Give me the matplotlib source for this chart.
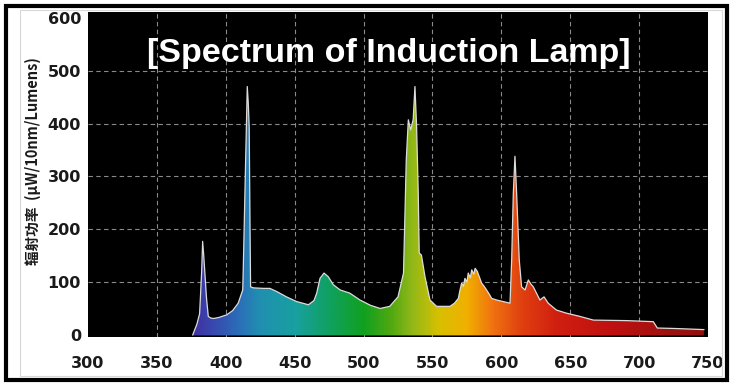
import numpy as np
import matplotlib
matplotlib.use('Agg')
import matplotlib.pyplot as plt
from matplotlib.colors import LinearSegmentedColormap
from matplotlib.patches import Rectangle, Polygon

# Spectrum (wavelength in nm, power in uW/10nm/Lumens)
wavelength = [376, 379, 381, 382.5, 383.2, 384, 385, 386, 387.3, 389, 391, 395,
              400.7, 405, 409, 412.3, 412.7, 414, 415, 415.6, 416.3, 417, 417.6,
              418, 420, 427.3, 432, 437, 444, 451.5, 460, 464, 466, 468.4, 471.3,
              474.4, 478, 483, 490, 497.4, 505, 512, 519, 525, 529, 531, 532.5,
              534.2, 536, 537.3, 538.5, 539.7, 540.4, 542, 544.6, 548.2, 553,
              562.7, 566, 568.8, 570, 571.2, 572.5, 573.6, 575, 576, 577.5, 578.5,
              580, 581, 582.6, 584, 585.7, 587.5, 589.3, 591, 593, 596.6, 601.4,
              606.3, 607.5, 608.7, 609.9, 611.1, 613, 614.7, 617.2, 619.6, 621.5,
              623.2, 628, 631, 634, 640, 647.4, 657, 666.8, 691, 710.3, 711.5,
              713.2, 727.2, 747]
power = [0, 20, 40, 120, 177, 150, 110, 70, 35, 32, 31, 33,
         38, 46, 60, 85, 126, 281, 400, 470, 440, 394, 205,
         91, 89, 88, 88, 82, 72, 63, 57, 65, 79, 107, 117,
         110, 95, 85, 79, 66, 56, 50, 54, 72, 117, 331, 407,
         388, 407, 470, 394, 268, 155, 151, 110, 66, 54,
         54, 60, 69, 85, 98, 92, 107, 100, 117, 108, 123,
         115, 126, 120, 110, 98, 92, 85, 78, 69, 66, 63,
         60, 142, 268, 338, 268, 142, 91, 85, 104, 96,
         91, 66, 72, 60, 47, 41, 35, 28, 27, 25, 20,
         13, 12, 10]

x_ticks = [300, 350, 400, 450, 500, 550, 600, 650, 700, 750]
y_ticks = [0, 100, 200, 300, 400, 500, 600]

# colour stops along the wavelength axis
color_stops = [(375, '#4030a0'), (390, '#3848b0'), (410, '#2a70b8'),
               (425, '#2090b0'), (450, '#18a0a0'), (475, '#10a060'),
               (500, '#10a020'), (520, '#50a810'), (535, '#90b818'),
               (555, '#d8c000'), (575, '#f0b000'), (595, '#f07010'),
               (615, '#e04010'), (640, '#d02010'), (680, '#c01010'),
               (720, '#a01010'), (750, '#901010')]

fig = plt.figure(figsize=(7.33, 3.86), dpi=100)
ax = fig.add_axes([88 / 733, 49 / 386, 620 / 733, 325 / 386])
ax.set_facecolor('black')
ax.set_xlim(300, 750)
ax.set_ylim(-4, 611)

# dashed grid behind the spectrum
for gx in x_ticks[1:-1]:
    ax.axvline(gx, color='#8a8a8a', lw=0.8, ls=(0, (4, 3)), zorder=1)
for gy in y_ticks[1:-1]:
    ax.axhline(gy, color='#8a8a8a', lw=0.8, ls=(0, (4, 3)), zorder=1)

# gradient fill clipped to the spectrum outline
lo, hi = 300.0, 750.0
cmap = LinearSegmentedColormap.from_list(
    'spec', [((w - lo) / (hi - lo), c) for w, c in
             [(lo, color_stops[0][1])] + color_stops])
grad = np.linspace(0, 1, 900).reshape(1, -1)
img = ax.imshow(grad, extent=[lo, hi, -4, 611], aspect='auto', cmap=cmap,
                origin='lower', zorder=2)
verts = list(zip(wavelength, power)) + [(wavelength[-1], -1), (wavelength[0], -1)]
clip = Polygon(verts, closed=True, transform=ax.transData, fc='none', ec='none')
ax.add_patch(clip)
img.set_clip_path(clip)
ax.plot(wavelength, power, color='#dcdcdc', lw=0.9, zorder=3)

ax.set_xticks(x_ticks)
ax.set_yticks(y_ticks)
ax.tick_params(length=0, labelsize=11.5, colors='#1a1a1a')
ax.tick_params(axis='x', pad=14)
ax.tick_params(axis='y', pad=5)
for lab in ax.get_xticklabels() + ax.get_yticklabels():
    lab.set_fontweight('bold')
for s in ax.spines.values():
    s.set_visible(False)

ax.set_ylabel('辐射功率  (μW/10nm/Lumens)', fontsize=10.5, fontweight='bold',
              family=['Noto Sans CJK SC', 'DejaVu Sans'], color='#1a1a1a')
ax.yaxis.set_label_coords(-0.075, 0.54)

ax.text(0.485, 0.872, '[Spectrum of Induction Lamp]', transform=ax.transAxes,
        ha='center', va='center', color='white', fontsize=24.5, fontweight='bold',
        family='Liberation Sans')

# picture frame
fig.patches.append(Rectangle((20 / 733, 10 / 386), 702 / 733, 366 / 386,
                             transform=fig.transFigure, fill=False,
                             ec='#d8d8d8', lw=0.8))
fig.patches.append(Rectangle((6 / 733, 6 / 386), 721 / 733, 374 / 386,
                             transform=fig.transFigure, fill=False,
                             ec='black', lw=3))

fig.savefig('out.png', dpi=100)
